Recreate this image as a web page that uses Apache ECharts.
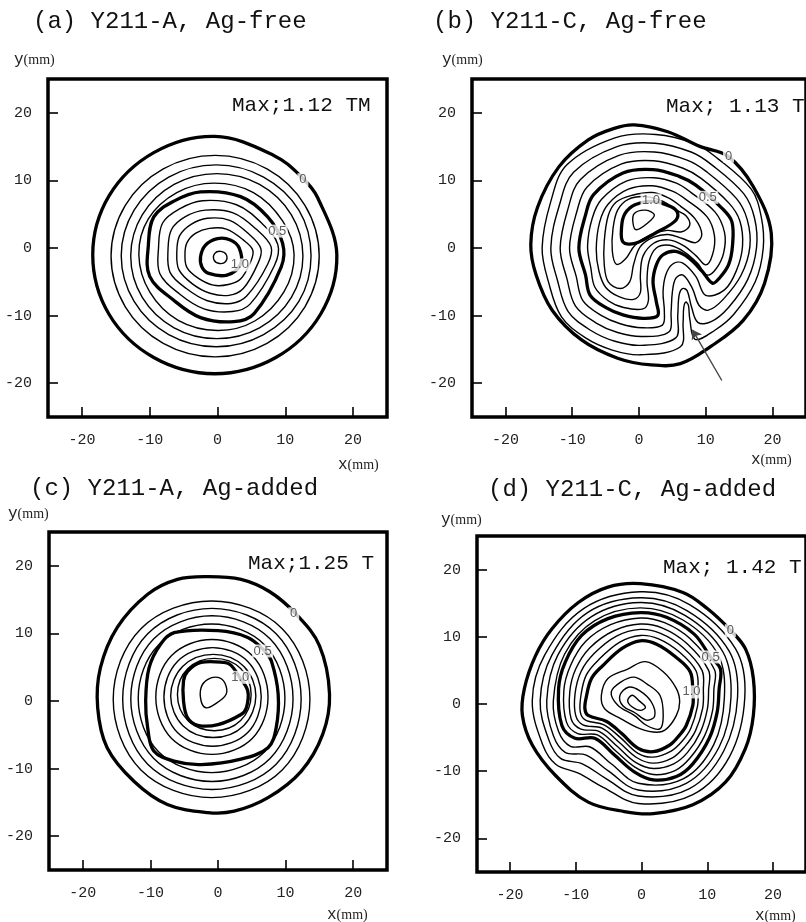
<!DOCTYPE html>
<html>
<head>
<meta charset="utf-8">
<title>Trapped field contour maps</title>
<script src="https://cdn.jsdelivr.net/npm/echarts@6.0.0/dist/echarts.min.js"></script>
<style>
    html, body { margin: 0; padding: 0; background: #fff; }
    #chart { width: 806px; height: 922px; }
</style>
</head>
<body>
<div id="chart"></div>
<script>
// tick values used on both axes of every panel (mm)
const tickValues = [-20, -10, 0, 10, 20];

const panelTitles = ['(a) Y211-A, Ag-free', '(b) Y211-C, Ag-free', '(c) Y211-A, Ag-added', '(d) Y211-C, Ag-added'];
const maxTexts = ['Max;1.12 TM', 'Max; 1.13 T', 'Max;1.25 T', 'Max; 1.42 T'];

// ---- (a) Y211-A, Ag-free : contour levels (T) and traced lines, [x, y] in mm
const levelsA = [0, 0.1, 0.2, 0.3, 0.4, 0.5, 0.6, 0.7, 0.8, 0.9, 1.0, 1.1];
const contoursA = [
    [[17.6,-1.0],[14.8,7.4],[12.5,10.4],[8.3,13.7],[-0.4,16.5],[-9.4,14.1],[-16.0,7.7],[-18.4,-1.0],[-16.0,-9.8],[-9.4,-16.2],[-0.4,-18.6],[8.6,-16.2],[15.2,-9.8]],
    [[15.0,-1.2],[12.9,6.3],[7.3,11.7],[-0.35,13.7],[-8.0,11.7],[-13.6,6.3],[-15.7,-1.2],[-13.6,-8.7],[-8.0,-14.1],[-0.35,-16.1],[7.3,-14.1],[12.9,-8.7]],
    [[13.8,-1.15],[12.0,5.6],[6.8,10.5],[-0.2,12.3],[-7.2,10.5],[-12.3,5.6],[-14.2,-1.15],[-12.3,-7.9],[-7.2,-12.8],[-0.2,-14.6],[6.8,-12.8],[12.0,-7.9]],
    [[12.6,-1.2],[10.9,4.9],[6.2,9.4],[-0.1,11.0],[-6.4,9.4],[-11.1,4.9],[-12.8,-1.2],[-11.1,-7.3],[-6.4,-11.8],[-0.1,-13.4],[6.2,-11.8],[10.9,-7.3]],
    [[11.3,-1.0],[9.6,4.0],[5.3,8.2],[-0.5,9.6],[-6.0,8.2],[-10.2,4.3],[-11.6,-1.0],[-10.0,-6.5],[-5.8,-10.7],[0,-12.2],[5.5,-10.8],[9.8,-6.5]],
    [[9.6,0.7],[7.4,4.6],[3.4,7.6],[-2.5,8.3],[-6.5,6.9],[-9.4,4.6],[-10.2,0.4],[-10.0,-4.2],[-6.5,-7.7],[-2.5,-10.3],[2.4,-10.9],[5.4,-9.7],[9.4,-2.8]],
    [[8.9,0.5],[6.6,3.6],[2.8,6.4],[-2.2,7.0],[-5.6,5.8],[-8.1,3.7],[-8.7,0],[-8.5,-3.8],[-5.6,-6.8],[-2.0,-9.0],[2.2,-9.4],[4.8,-8.3],[8.4,-2.6]],
    [[7.9,0.2],[5.7,2.8],[2.3,5.2],[-1.8,5.6],[-4.8,4.6],[-6.8,2.7],[-7.3,-0.3],[-7.0,-3.6],[-4.6,-6.0],[-1.5,-7.8],[2.0,-8.2],[4.3,-7.1],[7.4,-2.4]],
    [[6.4,-0.1],[4.7,2.0],[1.8,4.1],[-1.5,4.4],[-3.9,3.5],[-5.6,1.8],[-6.0,-0.6],[-5.7,-3.2],[-3.7,-5.3],[-1.1,-6.7],[1.7,-7.0],[3.8,-6.0],[6.0,-2.2]],
    [[5.2,-0.3],[3.8,1.2],[1.3,2.8],[-1.2,2.9],[-3.2,2.2],[-4.5,0.8],[-4.8,-1.0],[-4.5,-2.9],[-2.8,-4.5],[-0.6,-5.5],[1.6,-5.4],[3.4,-4.6],[4.9,-2.0]],
    [[3.2,0.0],[1.9,1.2],[0,1.4],[-1.8,0.4],[-2.5,-1.3],[-2.3,-2.8],[-1.3,-3.75],[1.4,-4.0],[3.4,-2.4]],
    [[1.3,-1.0],[0.5,-0.5],[-0.4,-0.8],[-0.5,-1.8],[0.3,-2.3],[1.2,-2.0]]
];
const labelsA = [[12.6, 10.1, '0'], [8.8, 2.5, '0.5'], [3.3, -2.5, '1.0']];

// ---- (b) Y211-C, Ag-free
const levelsB = [0, 0.1, 0.2, 0.3, 0.4, 0.5, 0.6, 0.7, 0.8, 0.9, 1.0, 1.1];
const contoursB = [
    [[-0.7,18.2],[4.3,17.2],[9.2,15.0],[13.3,13.6],[17.1,9.1],[19.8,2.2],[18.8,-5.2],[15.6,-10.7],[10.7,-14.6],[6.2,-17.1],[1.8,-17.3],[-3.2,-16.3],[-8.6,-13.6],[-13.0,-9.2],[-15.4,-4.0],[-16.2,0.5],[-15.2,6.0],[-12.0,12.0],[-7.6,16.0],[-3.7,17.7]],
    [[11.7,13.3],[16.8,8.7],[18.3,4.6],[18.6,0.0],[17.4,-5.0],[14.2,-9.8],[11.3,-12.2],[8.4,-13.5],[7.6,-10.5],[7.4,-8.5],[7.0,-8.0],[6.7,-8.8],[6.6,-11.0],[6.2,-14.6],[0.2,-15.8],[-4.0,-15.1],[-8.0,-13.3],[-11.6,-10.2],[-13.5,-5.2],[-14.5,0],[-13.2,6.9],[-10.8,12.3],[-3.6,16.3],[2.5,16.8],[8.4,15.4]],
    [[10.9,12.3],[15.7,8.0],[17.3,4.4],[17.6,0.1],[16.3,-4.6],[13.4,-8.8],[10.8,-10.9],[8.8,-11.0],[7.8,-8.5],[7.2,-6.3],[6.5,-6.0],[6.0,-7.0],[5.8,-10.0],[5.5,-13.3],[0.3,-14.4],[-3.6,-13.8],[-7.2,-12.2],[-10.6,-9.4],[-12.2,-4.8],[-13.2,0],[-11.9,6.4],[-9.8,11.2],[-3.3,15.0],[2.4,15.5],[7.8,14.2]],
    [[10.1,11.3],[14.6,7.3],[16.2,4.2],[16.6,0.2],[15.3,-4.0],[12.6,-7.6],[10.4,-9.2],[9.0,-8.5],[8.0,-6.0],[6.6,-4.0],[5.5,-4.5],[5.0,-6.5],[4.8,-9.5],[4.5,-12.4],[0.4,-13.1],[-3.2,-12.5],[-6.4,-11.1],[-9.5,-8.6],[-10.8,-4.5],[-11.8,0],[-10.6,5.9],[-8.8,10.1],[-3.0,13.7],[2.3,14.2],[7.2,13.0]],
    [[9.3,10.3],[13.5,6.6],[15.1,4.0],[15.5,0.3],[14.6,-3.3],[12.8,-6.2],[10.0,-7.0],[8.5,-4.2],[6.5,-2.2],[5.0,-2.4],[4.0,-4.0],[3.6,-6.5],[3.8,-9.5],[3.5,-11.4],[0.5,-11.8],[-2.8,-11.2],[-5.6,-10.0],[-8.4,-7.8],[-9.4,-4.2],[-10.4,0],[-9.3,5.4],[-7.8,9.0],[-2.7,12.4],[2.2,12.9],[6.6,11.8]],
    [[8.5,9.3],[12.4,5.9],[13.9,3.9],[14.0,0.4],[13.4,-2.5],[12.0,-4.5],[11.0,-5.2],[9.5,-3.5],[7.5,-1.5],[5.5,-0.5],[3.6,-1.0],[2.6,-2.5],[2.1,-5.0],[2.6,-8.0],[2.8,-10.0],[0.6,-10.4],[-2.4,-9.9],[-4.8,-8.9],[-7.3,-7.0],[-8.0,-4.0],[-9.0,0],[-8.0,4.9],[-6.8,7.9],[-2.4,11.1],[2.1,11.6],[6.0,10.6]],
    [[7.8,8.2],[11.4,5.3],[12.8,2.3],[12.7,-0.6],[11.6,-3.0],[10.2,-4.0],[8.8,-2.3],[6.8,-0.6],[4.6,0.4],[2.6,0.0],[1.5,-2.0],[1.2,-5.0],[1.4,-7.8],[0.6,-9.0],[-2.3,-8.8],[-4.6,-7.8],[-6.6,-5.8],[-7.2,-3.0],[-7.7,0.3],[-7.0,4.4],[-5.6,7.2],[-1.9,9.9],[2.2,10.4],[5.6,9.6]],
    [[7.0,7.2],[10.2,4.6],[11.3,1.8],[11.0,-1.0],[10.0,-2.5],[8.6,-1.2],[6.6,0.4],[4.4,1.2],[2.2,0.7],[0.6,-1.2],[0.2,-4.0],[0.2,-6.6],[-0.8,-7.6],[-3.0,-7.2],[-5.0,-5.8],[-6.0,-3.4],[-6.4,-0.2],[-5.9,3.8],[-4.6,6.5],[-1.6,8.7],[2.0,9.2],[5.0,8.4]],
    [[6.2,6.2],[8.4,4.3],[9.4,2.0],[8.5,0.8],[6.5,1.4],[4.4,2.0],[2.2,1.6],[0.2,0.2],[-0.8,-2.4],[-1.4,-5.0],[-2.8,-6.0],[-4.6,-5.0],[-5.2,-2.5],[-5.2,1.0],[-4.6,4.8],[-3.4,6.8],[-1.0,7.8],[2.0,8.2],[4.4,7.4]],
    [[5.6,5.6],[7.0,4.8],[7.6,3.4],[6.4,2.4],[4.2,2.6],[1.8,2.0],[-0.6,0.4],[-2.0,-1.6],[-3.4,-2.4],[-4.0,-0.4],[-3.9,2.8],[-3.2,5.6],[-1.6,7.2],[1.0,7.6],[3.6,6.9]],
    [[1.8,6.9],[4.8,6.1],[5.8,5.1],[5.3,3.9],[2.8,2.4],[-0.6,0.7],[-2.4,0.9],[-2.6,3.2],[-2.1,5.1],[-0.6,6.4]],
    [[-0.7,5.1],[1.0,5.6],[2.3,4.9],[1.3,3.7],[-0.4,2.7],[-0.9,3.7]]
];
const labelsB = [[13.4, 13.6, '0'], [10.3, 7.5, '0.5'], [1.8, 7.1, '1.0']];
// arrow pointing at the notch, tail -> head
const arrowB = [[12.4, -19.6], [8.0, -12.1]];

// ---- (c) Y211-A, Ag-added
const levelsC = [0, 0.1, 0.2, 0.3, 0.4, 0.5, 0.6, 0.7, 0.8, 0.9, 1.0, 1.1];
const contoursC = [
    [[16.5,1.0],[15.5,-4.9],[12.3,-10.4],[7.4,-14.3],[2.4,-16.3],[-1.5,-16.5],[-7.5,-15.3],[-12.4,-11.9],[-16.4,-6.9],[-17.8,-1.0],[-17.4,4.9],[-14.9,10.9],[-10.4,15.8],[-6.0,18.0],[-1.5,18.4],[3.4,18.0],[7.6,16.2],[11.4,13.0],[15.0,8.2]],
    [[13.6,0.25],[9.5,-10.2],[-0.95,-14.3],[-11.4,-10.2],[-15.5,0.25],[-11.4,10.7],[-0.95,14.8],[9.5,10.7]],
    [[12.3,0.3],[8.6,-9.35],[-0.9,-13.1],[-10.4,-9.35],[-14.1,0.3],[-10.4,9.95],[-0.9,13.7],[8.6,9.95]],
    [[11.1,0.35],[7.7,-8.5],[-0.9,-11.9],[-9.5,-8.5],[-12.9,0.35],[-9.5,9.2],[-0.9,12.6],[7.7,9.2]],
    [[9.9,0.4],[6.9,-7.5],[-0.95,-10.6],[-8.8,-7.5],[-11.8,0.4],[-8.8,8.3],[-0.95,11.4],[6.9,8.3]],
    [[8.9,1.0],[8.6,-4.0],[7.4,-6.9],[3.4,-8.6],[-2.5,-9.4],[-6.5,-8.9],[-9.5,-7.4],[-10.4,-4.0],[-10.7,0],[-10.2,4.9],[-8.5,8.4],[-6.5,10.1],[0,10.4],[4.4,9.4],[6.9,7.4],[7.9,5.9]],
    [[7.4,0.6],[5.1,-5.5],[-0.9,-7.9],[-6.9,-5.5],[-9.2,0.6],[-6.9,6.7],[-0.9,9.1],[5.1,6.7]],
    [[6.4,0.6],[4.4,-4.65],[-0.8,-6.7],[-6.0,-4.65],[-8.0,0.6],[-6.0,5.85],[-0.8,7.9],[4.4,5.85]],
    [[5.6,0.75],[3.8,-3.65],[-0.7,-5.4],[-5.2,-3.65],[-7.0,0.75],[-5.2,5.15],[-0.7,6.9],[3.8,5.15]],
    [[4.9,0.95],[3.35,-2.9],[-0.55,-4.4],[-4.45,-2.9],[-6.0,0.95],[-4.45,4.8],[-0.55,6.3],[3.35,4.8]],
    [[4.4,1.5],[4.2,-1.0],[3.4,-2.0],[0,-3.5],[-3.0,-3.6],[-4.5,-2.5],[-5.1,0],[-5.1,3.0],[-4.5,4.4],[-2.5,5.7],[0.9,5.7],[1.9,5.3],[3.2,3.5]],
    [[1.2,1.0],[-0.5,-0.5],[-1.8,-1.0],[-2.5,0],[-2.5,2.0],[-1.5,3.2],[0,3.5],[1.0,2.7]]
];
const labelsC = [[11.2, 12.9, '0'], [6.6, 7.4, '0.5'], [3.3, 3.5, '1.0']];

// ---- (d) Y211-C, Ag-added
const levelsD = [0, 0.1, 0.2, 0.3, 0.4, 0.5, 0.6, 0.7, 0.8, 0.9, 1.0, 1.1, 1.2, 1.3, 1.4];
const contoursD = [
    [[17.0,-1.7],[17.0,3.8],[15.8,8.2],[13.5,11.0],[10.0,14.2],[6.3,16.6],[-0.15,17.9],[-5.1,17.4],[-9.6,15.1],[-13.6,11.2],[-16.1,7.2],[-17.8,2.3],[-18.1,-1.7],[-16.6,-6.1],[-13.1,-10.6],[-8.1,-14.6],[-2.6,-16.0],[1.8,-16.3],[7.8,-15.0],[12.8,-11.6],[15.8,-6.6]],
    [[15.7,1.0],[14.3,8.2],[7.3,14.8],[-0.2,16.7],[-8.8,14.2],[-14.7,7.3],[-16.6,0.5],[-15.0,-6.1],[-13.0,-9.0],[-9.6,-10.3],[-5.8,-12.4],[-0.5,-14.8],[7.8,-13.5],[13.4,-7.8]],
    [[14.6,1.0],[13.3,7.9],[6.9,13.9],[-0.2,15.8],[-8.2,13.6],[-13.6,7.3],[-15.4,0.5],[-14.1,-5.3],[-12.3,-8.1],[-9.0,-8.9],[-5.4,-11.1],[-0.5,-13.7],[7.3,-12.6],[12.5,-7.0]],
    [[13.6,1.0],[12.4,7.7],[6.6,13.2],[-0.2,15.1],[-7.6,13.0],[-12.7,7.3],[-14.4,0.5],[-13.4,-4.7],[-11.6,-7.2],[-8.4,-7.6],[-5.0,-10.0],[-0.5,-12.8],[6.8,-11.8],[11.8,-6.4]],
    [[12.6,1.0],[11.6,7.4],[6.3,12.5],[-0.2,14.3],[-7.1,12.4],[-11.7,7.4],[-13.4,0.5],[-12.6,-4.1],[-10.8,-6.3],[-7.8,-6.4],[-4.6,-8.9],[-0.5,-11.8],[6.4,-11.1],[11.0,-6.0]],
    [[11.8,2.3],[12.0,5.2],[10.5,7.0],[8.0,10.4],[3.8,12.9],[-0.15,13.6],[-5.1,12.7],[-9.1,10.2],[-11.6,6.2],[-12.6,2.3],[-12.1,-3.2],[-10.1,-5.1],[-7.1,-5.1],[-4.1,-7.6],[-1.1,-10.1],[1.8,-11.3],[5.3,-10.8],[7.8,-8.9],[10.3,-5.1],[11.5,-1.2]],
    [[11.0,2.2],[11.1,5.1],[7.4,9.7],[3.5,12.1],[-0.2,12.8],[-4.7,11.8],[-8.5,9.3],[-10.8,5.7],[-11.8,2.0],[-11.4,-2.7],[-9.7,-4.4],[-6.7,-4.6],[-3.9,-7.0],[-1.0,-9.4],[1.8,-10.5],[5.1,-9.9],[7.4,-8.0],[9.6,-4.7],[10.8,-1.0]],
    [[10.2,2.1],[10.2,5.0],[6.9,9.0],[3.2,11.3],[-0.2,11.9],[-4.2,10.9],[-7.8,8.4],[-10.0,5.2],[-10.9,1.8],[-10.7,-2.2],[-9.3,-3.7],[-6.4,-4.1],[-3.7,-6.3],[-0.9,-8.7],[1.8,-9.6],[4.9,-8.9],[7.0,-7.2],[8.9,-4.3],[10.0,-0.8]],
    [[9.4,2.0],[9.2,5.0],[6.3,8.4],[2.9,10.5],[-0.2,11.1],[-3.8,10.1],[-7.2,7.5],[-9.2,4.8],[-10.1,1.5],[-10.0,-1.7],[-8.9,-3.1],[-6.0,-3.6],[-3.4,-5.7],[-0.7,-8.0],[1.8,-8.8],[4.7,-8.0],[6.6,-6.3],[8.2,-4.0],[9.3,-0.6]],
    [[8.6,1.9],[8.3,4.9],[5.8,7.7],[2.6,9.7],[-0.2,10.2],[-3.3,9.2],[-6.5,6.6],[-8.4,4.3],[-9.2,1.3],[-9.3,-1.2],[-8.5,-2.4],[-5.7,-3.1],[-3.2,-5.0],[-0.6,-7.3],[1.8,-7.9],[4.5,-7.0],[6.2,-5.5],[7.5,-3.6],[8.5,-0.4]],
    [[7.8,1.8],[7.4,4.8],[5.2,7.0],[2.3,8.9],[-0.2,9.4],[-2.9,8.3],[-5.9,5.7],[-7.6,3.8],[-8.4,1.0],[-8.6,-0.7],[-8.1,-1.7],[-5.3,-2.6],[-3.0,-4.4],[-0.5,-6.6],[1.8,-7.1],[4.3,-6.1],[5.8,-4.6],[6.8,-3.2],[7.8,-0.2]],
    [[5.8,0.3],[5.3,2.3],[3.3,4.8],[0.6,6.3],[-2.1,5.2],[-5.1,3.8],[-6.1,1.3],[-5.6,-0.7],[-3.1,-2.2],[-0.15,-3.7],[2.3,-4.2],[3.8,-3.7],[5.3,-1.7]],
    [[2.8,1.3],[0.8,3.0],[-1.1,4.0],[-3.1,3.3],[-4.6,1.8],[-3.6,-0.2],[-1.1,-1.7],[0.8,-3.2],[2.8,-3.7],[3.3,-1.7]],
    [[1.5,0.3],[-0.3,2.0],[-2.0,2.5],[-3.3,1.2],[-2.8,-0.3],[-1.0,-1.3],[0.8,-2.4],[2.0,-1.8]],
    [[0.6,-0.45],[-0.4,0.5],[-1.4,1.3],[-2.1,0.5],[-1.4,-0.45],[-0.15,-0.95]]
];
const labelsD = [[13.5, 10.9, '0'], [10.5, 7.0, '0.5'], [7.6, 1.8, '1.0']];

// ---------------- layout ----------------
const grids = [
    {left: 48, top: 79, width: 339, height: 338},
    {left: 472, top: 79, width: 338, height: 338},
    {left: 49, top: 532, width: 338, height: 338},
    {left: 477, top: 536, width: 336, height: 336}
];
const titlePos = [[33, 22], [433, 22], [30, 489], [488, 490]];
const maxPos = [[232, 105], [666, 106], [248, 563], [663, 567]];
const yNamePos = [[14, 60], [442, 60], [8, 514], [441, 520]];
const xNamePos = [[338, 465], [751, 460], [327, 915], [755, 916]];

const monoFont = '"Liberation Mono", "DejaVu Sans Mono", monospace';

function makeAxis(k) {
    return {
        type: 'value', gridIndex: k, min: -25, max: 25,
        axisLine: {show: false, onZero: false},
        splitLine: {show: false},
        axisTick: {show: true, inside: true, length: 10, customValues: tickValues,
            lineStyle: {color: '#000', width: 1.6}},
        axisLabel: {customValues: tickValues, margin: 16, color: '#222',
            fontSize: 15, fontFamily: monoFont}
    };
}

// closed, smoothed contour lines drawn through the axis scales
function contourSeries(levels, paths, k) {
    return {
        type: 'custom', coordinateSystem: 'cartesian2d',
        xAxisIndex: k, yAxisIndex: k, silent: true, z: 2,
        data: paths.map(p => [p[0][0], p[0][1]]),
        renderItem: function (params, api) {
            const i = params.dataIndex;
            const lv = levels[i];
            const major = lv === 0 || lv === 0.5 || lv === 1.0;
            return {
                type: 'polygon',
                shape: {points: paths[i].map(p => api.coord(p)), smooth: 0.36},
                style: {fill: 'none', stroke: '#000', lineWidth: major ? 3.3 : 1.4, lineJoin: 'round'}
            };
        }
    };
}

// contour value labels, a white box hides the line underneath
function labelSeries(labels, k) {
    return {
        type: 'scatter', xAxisIndex: k, yAxisIndex: k, silent: true, z: 5,
        data: labels.map(l => ({value: [l[0], l[1]], name: l[2]})),
        symbol: 'rect',
        symbolSize: function (val, params) {
            return params.name.length > 1 ? [21, 13] : [11, 13];
        },
        itemStyle: {color: '#fff'},
        label: {show: true, position: 'inside', formatter: '{b}', color: '#333',
            fontSize: 13, fontFamily: '"Liberation Sans", Arial, sans-serif'}
    };
}

const panels = [
    [levelsA, contoursA, labelsA],
    [levelsB, contoursB, labelsB],
    [levelsC, contoursC, labelsC],
    [levelsD, contoursD, labelsD]
];

let series = [];
panels.forEach((p, k) => {
    series.push(contourSeries(p[0], p[1], k));
    series.push(labelSeries(p[2], k));
});
series.push({
    type: 'lines', coordinateSystem: 'cartesian2d', xAxisIndex: 1, yAxisIndex: 1,
    silent: true, z: 6,
    data: [{coords: arrowB}],
    symbol: ['none', 'arrow'], symbolSize: 9,
    lineStyle: {color: '#444', width: 1.4, opacity: 1, curveness: 0}
});

let graphic = [];
panelTitles.forEach((t, k) => {
    graphic.push({type: 'text', x: titlePos[k][0], y: titlePos[k][1], silent: true,
        style: {text: t, font: '24px ' + monoFont, fill: '#111', verticalAlign: 'middle'}});
    graphic.push({type: 'text', x: maxPos[k][0], y: maxPos[k][1], silent: true,
        style: {text: maxTexts[k], font: '21px ' + monoFont, fill: '#111', verticalAlign: 'middle'}});
    [yNamePos[k], xNamePos[k]].forEach((pos, j) => {
        graphic.push({type: 'text', x: pos[0], y: pos[1], silent: true,
            style: {
                text: (j === 0 ? '{a|y}' : '{a|x}') + '{b|(mm)}',
                verticalAlign: 'middle', fill: '#222',
                rich: {
                    a: {fontSize: 16, fontFamily: monoFont, fill: '#222'},
                    b: {fontSize: 14, fontFamily: '"Liberation Serif", serif', fill: '#222'}
                }
            }});
    });
});

const chart = echarts.init(document.getElementById('chart'));
chart.setOption({
    animation: false,
    backgroundColor: '#fff',
    grid: grids.map(g => Object.assign({show: true, borderColor: '#000', borderWidth: 3.5,
        backgroundColor: 'transparent'}, g)),
    xAxis: grids.map((g, k) => Object.assign(makeAxis(k), {position: 'bottom'})),
    yAxis: grids.map((g, k) => Object.assign(makeAxis(k), {position: 'left'})),
    series: series,
    graphic: graphic
});
</script>
</body>
</html>
